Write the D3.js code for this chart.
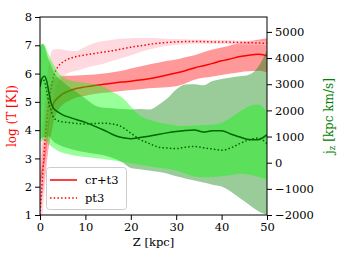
<!DOCTYPE html>
<html>
<head>
<meta charset="utf-8">
<script src="https://cdn.jsdelivr.net/npm/d3@7"></script>
<style>
body { margin: 0; background: #fff; }
text { font-family: "DejaVu Serif", serif; }
</style>
</head>
<body>
<svg id="chart" width="348" height="264"></svg>
<script>
// Z positions [kpc] where values were read
var zKpc = [0, 0.5, 1, 1.5, 2, 2.5, 3, 4, 5, 6, 8, 10, 12, 14, 16, 18, 20, 22, 24, 26, 28, 30, 32, 34, 36, 38, 40, 42, 44, 46, 48, 50];

// log T, cr+t3 (median and spread)
var crT   = [2.2, 2.6, 3.0, 3.6, 4.35, 4.7, 4.95, 5.15, 5.28, 5.36, 5.47, 5.53, 5.58, 5.62, 5.66, 5.7, 5.73, 5.77, 5.82, 5.88, 5.95, 6.02, 6.1, 6.2, 6.28, 6.36, 6.45, 6.52, 6.6, 6.65, 6.68, 6.63];
var crTLo = [1.0, 1.6, 2.2, 2.9, 3.5, 3.9, 4.3, 4.7, 4.9, 5.0, 5.15, 5.22, 5.28, 5.32, 5.35, 5.38, 5.42, 5.45, 5.48, 5.5, 5.52, 5.55, 5.65, 5.78, 5.85, 5.9, 5.95, 6.0, 6.05, 6.08, 6.1, 6.05];
var crTHi = [2.6, 3.3, 4.2, 5.0, 5.5, 5.7, 5.8, 5.88, 5.92, 5.92, 5.93, 5.95, 5.97, 6.0, 6.05, 6.1, 6.18, 6.25, 6.32, 6.38, 6.45, 6.5, 6.58, 6.65, 6.75, 6.85, 6.92, 7.0, 7.08, 7.15, 7.2, 7.25];

// log T, pt3
var ptT   = [1.0, 2.2, 3.4, 4.3, 5.0, 5.5, 5.9, 6.25, 6.4, 6.5, 6.6, 6.66, 6.71, 6.76, 6.81, 6.87, 6.93, 6.98, 7.03, 7.07, 7.1, 7.12, 7.13, 7.13, 7.13, 7.12, 7.12, 7.11, 7.1, 7.09, 7.08, 7.07];
var ptTLo = [1.0, 1.0, 1.8, 2.8, 3.8, 4.6, 5.2, 5.7, 5.9, 6.0, 6.1, 6.2, 6.28, 6.35, 6.45, 6.55, 6.65, 6.75, 6.85, 6.92, 6.98, 7.02, 7.04, 7.05, 7.05, 7.05, 7.05, 7.04, 7.03, 7.02, 7.01, 7.0];
var ptTHi = [3.0, 4.0, 5.0, 5.8, 6.4, 6.75, 6.85, 6.87, 6.85, 6.82, 6.8, 6.95, 7.08, 7.15, 7.2, 7.23, 7.25, 7.26, 7.26, 7.25, 7.23, 7.22, 7.21, 7.2, 7.2, 7.19, 7.19, 7.18, 7.17, 7.16, 7.15, 7.14];

// j_z [kpc km/s], cr+t3
var crJ   = [2900, 3250, 3300, 3100, 2650, 2250, 2080, 1930, 1830, 1760, 1650, 1540, 1400, 1250, 1080, 960, 920, 960, 1010, 1080, 1140, 1190, 1230, 1250, 1170, 1220, 1220, 1100, 980, 890, 880, 1070];
var crJLo = [900, 950, 1000, 1000, 1000, 900, 800, 700, 620, 560, 470, 400, 340, 280, 180, 30, -200, -250, -300, -350, -410, -520, -600, -680, -760, -840, -910, -1100, -1350, -1600, -1850, -2000];
var crJHi = [4400, 4550, 4450, 4150, 3900, 3700, 3500, 3250, 3100, 2950, 2700, 2450, 2200, 2100, 2080, 2050, 2030, 2050, 2030, 2200, 2450, 2800, 2990, 3000, 2960, 3120, 3200, 3260, 3300, 3360, 3650, 4300];

// j_z [kpc km/s], pt3
var ptJ   = [3000, 3200, 3100, 2700, 2250, 1950, 1720, 1600, 1560, 1540, 1500, 1480, 1500, 1510, 1480, 1370, 1130, 890, 740, 600, 560, 540, 590, 620, 570, 525, 480, 560, 730, 870, 940, 726];
var ptJLo = [800, 850, 900, 800, 700, 620, 560, 450, 380, 330, 260, 220, 180, 140, 90, 40, -20, -80, -140, -190, -230, -300, -420, -530, -560, -550, -520, -480, -420, -450, -540, -650];
var ptJHi = [4400, 4550, 4500, 4300, 4100, 3900, 3750, 3450, 3280, 3180, 3100, 3050, 3000, 2900, 2700, 2500, 2150, 1800, 1640, 1550, 1480, 1420, 1400, 1420, 1440, 1450, 1530, 1720, 1960, 2150, 2220, 1950];

var xTicks = [0, 10, 20, 30, 40, 50];
var tTicks = [1, 2, 3, 4, 5, 6, 7, 8];
var jTicks = [-2000, -1000, 0, 1000, 2000, 3000, 4000, 5000];

var box = {left: 40, right: 267, top: 17, bottom: 215};
var svg = d3.select("#chart");

var x  = d3.scaleLinear().domain([0, 50]).range([box.left, box.right]);
var yT = d3.scaleLinear().domain([1, 8]).range([box.bottom, box.top]);
var yJ = d3.scaleLinear().domain([-2000, 5570]).range([box.bottom, box.top]);

svg.append("defs").append("clipPath").attr("id", "plotClip")
    .append("rect")
    .attr("x", box.left).attr("y", box.top)
    .attr("width", box.right - box.left).attr("height", box.bottom - box.top);

var plot = svg.append("g").attr("clip-path", "url(#plotClip)");

function band(y, lo, hi) {
    return d3.area().curve(d3.curveMonotoneX)
        .x(function(d, i){ return x(zKpc[i]); })
        .y0(function(d, i){ return y(lo[i]); })
        .y1(function(d, i){ return y(hi[i]); })(zKpc);
}
function line(y, vals) {
    return d3.line().curve(d3.curveMonotoneX)
        .x(function(d, i){ return x(zKpc[i]); })
        .y(function(d, i){ return y(vals[i]); })(zKpc);
}

// temperature (left axis)
plot.append("path").attr("d", band(yT, crTLo, crTHi)).attr("fill", "red").attr("fill-opacity", 0.4);
plot.append("path").attr("d", line(yT, crT)).attr("fill", "none").attr("stroke", "red").attr("stroke-width", 1.5);
plot.append("path").attr("d", band(yT, ptTLo, ptTHi)).attr("fill", "pink").attr("fill-opacity", 0.6);
plot.append("path").attr("d", line(yT, ptT)).attr("fill", "none").attr("stroke", "red")
    .attr("stroke-width", 1.5).attr("stroke-dasharray", "1.5,2.2");

// angular momentum (right axis), drawn over the temperature
plot.append("path").attr("d", band(yJ, crJLo, crJHi)).attr("fill", "green").attr("fill-opacity", 0.4);
plot.append("path").attr("d", band(yJ, ptJLo, ptJHi)).attr("fill", "lime").attr("fill-opacity", 0.4);
plot.append("path").attr("d", line(yJ, crJ)).attr("fill", "none").attr("stroke", "darkgreen").attr("stroke-width", 1.5);
plot.append("path").attr("d", line(yJ, ptJ)).attr("fill", "none").attr("stroke", "darkgreen")
    .attr("stroke-width", 1.5).attr("stroke-dasharray", "1.5,2.2");

// axes
function styleAxis(g) {
    g.select(".domain").remove();
    g.selectAll("text").attr("font-family", "DejaVu Serif").attr("font-size", "11.5px").attr("fill", "#000");
    g.selectAll("line").attr("stroke", "#000");
}
svg.append("g").attr("transform", "translate(0," + box.bottom + ")")
    .call(d3.axisBottom(x).tickValues(xTicks).tickFormat(d3.format("d")).tickSize(5).tickPadding(3))
    .call(styleAxis);
svg.append("g").attr("transform", "translate(" + box.left + ",0)")
    .call(d3.axisLeft(yT).tickValues(tTicks).tickFormat(d3.format("d")).tickSize(5).tickPadding(3))
    .call(styleAxis);
svg.append("g").attr("transform", "translate(" + box.right + ",0)")
    .call(d3.axisRight(yJ).tickValues(jTicks).tickFormat(d3.format("d")).tickSize(5).tickPadding(3))
    .call(styleAxis);

svg.append("rect")
    .attr("x", box.left).attr("y", box.top)
    .attr("width", box.right - box.left).attr("height", box.bottom - box.top)
    .attr("fill", "none").attr("stroke", "#000").attr("stroke-width", 1);

// labels
svg.append("text").attr("x", (box.left + box.right) / 2).attr("y", 246)
    .attr("text-anchor", "middle").attr("font-size", "11.5px").text("Z [kpc]");
svg.append("text").attr("transform", "translate(16," + (box.top + box.bottom) / 2 + ") rotate(-90)")
    .attr("text-anchor", "middle").attr("font-size", "12px").attr("fill", "red").text("log (T [K])");
var jl = svg.append("text").attr("transform", "translate(333," + (box.top + box.bottom) / 2 + ") rotate(-90)")
    .attr("text-anchor", "middle").attr("font-size", "12px").attr("fill", "green");
jl.append("tspan").text("j");
jl.append("tspan").attr("font-size", "8.5px").attr("dy", 2).text("z");
jl.append("tspan").attr("dy", -2).text(" [kpc km/s]");

// legend
var legend = svg.append("g");
legend.append("rect").attr("x", 46.5).attr("y", 167.5).attr("width", 80).attr("height", 42).attr("rx", 3)
    .attr("fill", "#fff").attr("fill-opacity", 0.8).attr("stroke", "#ccc");
var entries = [{label: "cr+t3", dash: null}, {label: "pt3", dash: "1.5,2.2"}];
entries.forEach(function(e, i) {
    var cy = 180 + i * 18;
    legend.append("line").attr("x1", 50).attr("x2", 77).attr("y1", cy).attr("y2", cy)
        .attr("stroke", "red").attr("stroke-width", 1.5).attr("stroke-dasharray", e.dash);
    legend.append("text").attr("x", 85).attr("y", cy + 4).attr("font-size", "11.5px").text(e.label);
});
</script>
</body>
</html>
